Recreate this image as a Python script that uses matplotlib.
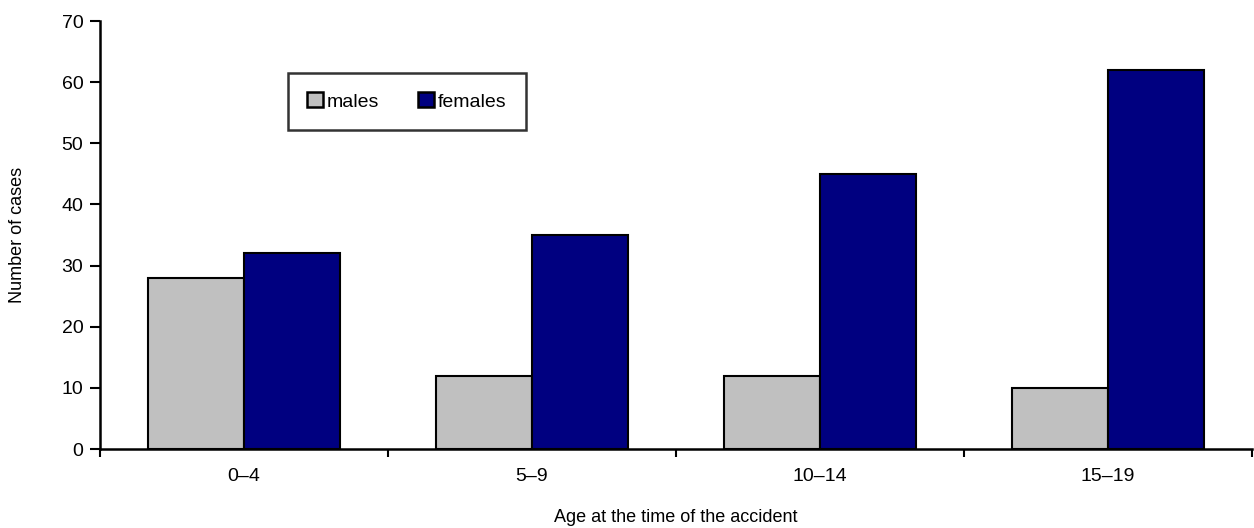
import numpy as np
import matplotlib.pyplot as plt
from matplotlib.patches import Patch

plt.rcParams['font.family'] = ['Liberation Sans Narrow', 'Liberation Sans', 'DejaVu Sans']

age_groups = ["0\u20134", "5\u20139", "10\u201314", "15\u201319"]
males = [28, 12, 12, 10]
females = [32, 35, 45, 62]

fig = plt.figure(figsize=(12.54, 5.28), dpi=100)
ax = fig.add_axes([100 / 1254, 79 / 528, 1152 / 1254, 428 / 528])

x = np.arange(len(age_groups))
w = 1 / 3
ax.bar(x - w / 2, males, width=w, color="#C0C0C0", edgecolor="black", linewidth=1.5, label="males")
ax.bar(x + w / 2, females, width=w, color="#000080", edgecolor="black", linewidth=1.5, label="females")

ax.set_xlim(-0.5, len(age_groups) - 0.5)
ax.set_ylim(0, 70)
ax.set_yticks(range(0, 71, 10))

# ticks sit on the category boundaries, labels in the middle
ax.set_xticks(np.arange(len(age_groups) + 1) - 0.5)
ax.set_xticklabels([""] * (len(age_groups) + 1))
ax.set_xticks(x, minor=True)
ax.set_xticklabels(age_groups, minor=True)
ax.tick_params(axis="x", which="minor", length=0, pad=14, labelsize=14)
ax.tick_params(axis="x", which="major", length=6, width=1.5)
ax.tick_params(axis="y", length=7, width=1.5, pad=5, labelsize=14)

for side in ["top", "right"]:
    ax.spines[side].set_visible(False)
for side in ["left", "bottom"]:
    ax.spines[side].set_linewidth(1.8)

ax.set_ylabel("Number of cases", fontsize=13, va="center")
ax.yaxis.set_label_coords(-82 / 1152, 0.5)
ax.set_xlabel("Age at the time of the accident", fontsize=13, va="center")
ax.xaxis.set_label_coords(0.5, -69 / 428)

handles = [Patch(facecolor="#C0C0C0", edgecolor="black", linewidth=1.8, label="males"),
           Patch(facecolor="#000080", edgecolor="black", linewidth=1.8, label="females")]
leg = ax.legend(handles=handles, loc="upper left", bbox_to_anchor=(188 / 1152, 1 - 52 / 428),
                ncol=2, fontsize=14, frameon=True, fancybox=False, edgecolor="black",
                handlelength=0.8, handleheight=0.8, handletextpad=0.2, columnspacing=2.0,
                borderpad=1.0, borderaxespad=0)
leg.get_frame().set_linewidth(1.8)

fig.savefig("out.png", dpi=100)
